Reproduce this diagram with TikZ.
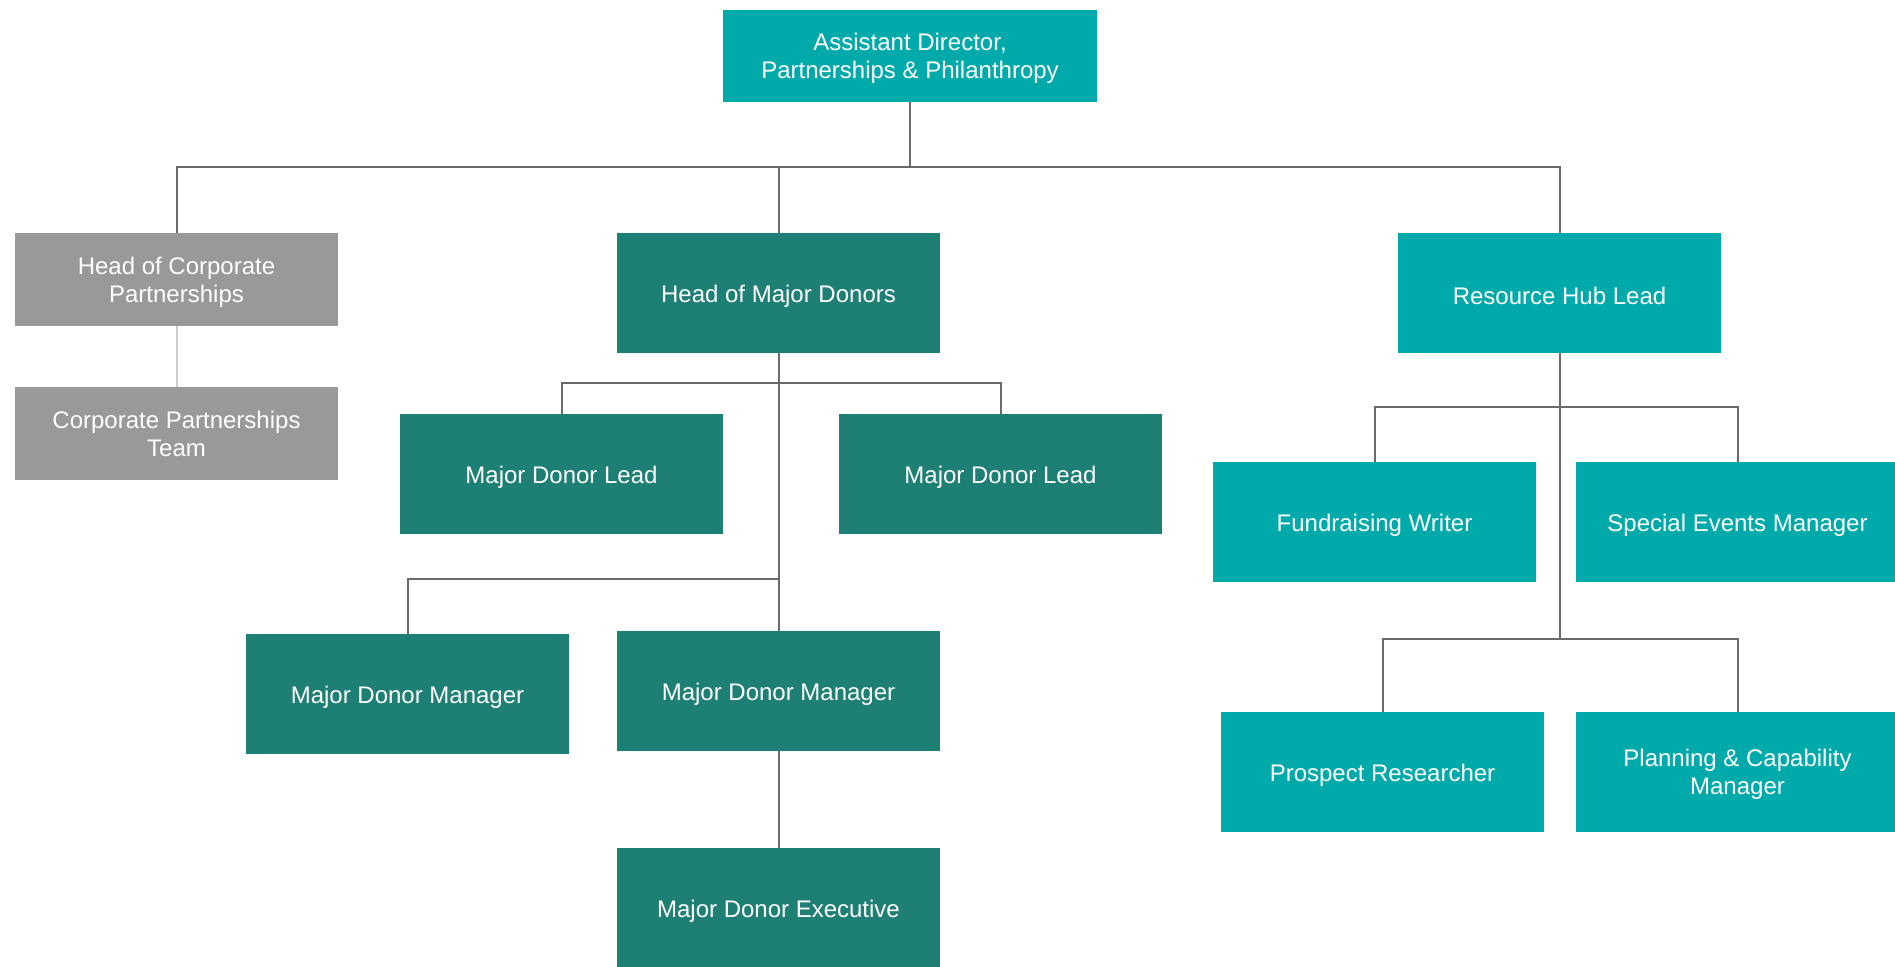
\documentclass[tikz,border=0pt]{standalone}
\usepackage{fontspec}
\setmainfont{Liberation Sans}
\usetikzlibrary{positioning,calc}
\definecolor{lteal}{HTML}{00AAAA}
\definecolor{dteal}{HTML}{1E7F74}
\definecolor{grbox}{HTML}{999999}
\definecolor{lnk}{HTML}{6A6A6A}
\definecolor{lnklight}{HTML}{CCCCCC}

\begin{document}
\begin{tikzpicture}[x=0.5pt,y=-0.5pt,
	unit/.style={rectangle,inner sep=0pt,outer sep=0pt,text=white,align=center,
		font=\fontsize{12}{14}\selectfont,minimum width=161.5pt,minimum height=60pt,
		execute at begin node={\rule{0pt}{12pt}}},
	lt/.style={unit,fill=lteal},
	dk/.style={unit,fill=dteal},
	gr/.style={unit,fill=grbox,minimum height=46.5pt},
	twoline/.style={text depth=0pt},
	link/.style={draw=lnk,line width=1pt}]
\path [use as bounding box,clip] (0,0) rectangle (1895,966);
\node [lt,twoline,minimum width=187pt,minimum height=46pt] (ad) at (910,56) {Assistant Director,\\Partnerships \& Philanthropy};
\node [gr,twoline] (hcp) at (176.5,279.5) {Head of Corporate\\Partnerships};
\node [gr,twoline] (cpt) at (176.5,433.5) {Corporate Partnerships\\Team};
\node [dk] (hmd) at (778.5,293) {Head of Major Donors};
\node [dk] (mdl1) at (561.5,474) {Major Donor Lead};
\node [dk] (mdl2) at (1000.5,474) {Major Donor Lead};
\node [dk] (mdm1) at (407.5,694) {Major Donor Manager};
\node [dk] (mdm2) at (778.5,691) {Major Donor Manager};
\node [dk] (mde) at (778.5,908) {Major Donor Executive};
\node [lt] (rhl) at (1559.5,293) {Resource Hub Lead};
\node [lt] (fw) at (1374.5,522) {Fundraising Writer};
\node [lt] (sem) at (1737.5,522) {Special Events Manager};
\node [lt] (pr) at (1382.5,772) {Prospect Researcher};
\node [lt,twoline] (pcm) at (1737.5,772) {Planning \& Capability\\Manager};

\draw [link] (ad.south) -- ++(0,65) coordinate (b0) -| (hcp.north);
\draw [link] (b0) -| (hmd.north);
\draw [link] (b0) -| (rhl.north);
\draw [draw=lnklight,line width=1pt] (hcp) -- (cpt);
\draw [link] (hmd.south) -- ++(0,30) coordinate (b1) -| (mdl1.north);
\draw [link] (b1) -| (mdl2.north);
\draw [link] (b1) -- (mdm2.north);
\draw [link] (hmd.south) ++(0,226) coordinate (b2) -| (mdm1.north);
\draw [link] (mdm2) -- (mde);
\draw [link] (rhl.south) -- ++(0,54) coordinate (b3) -| (fw.north);
\draw [link] (b3) -| (sem.north);
\draw [link] (b3) -- ++(0,232) coordinate (b4) -| (pr.north);
\draw [link] (b4) -| (pcm.north);
\end{tikzpicture}
\end{document}
